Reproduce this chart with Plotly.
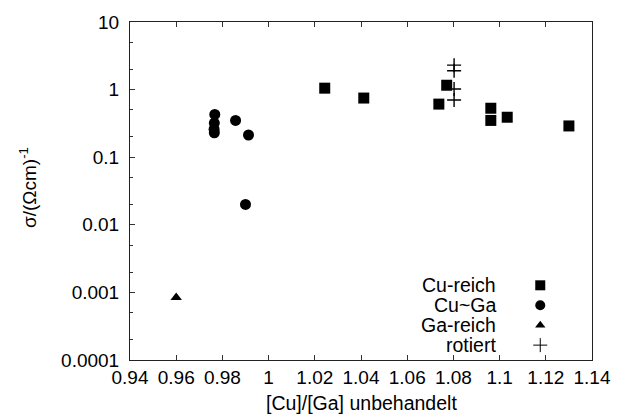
import plotly.graph_objects as go

# Data
cu_reich_x = [1.0243, 1.0412, 1.0771, 1.0737, 1.0962, 1.0962, 1.1033, 1.1300]
cu_reich_y = [1.05, 0.75, 1.16, 0.61, 0.53, 0.35, 0.39, 0.29]

cu_ga_x = [0.9767, 0.9765, 0.9764, 0.9765, 0.9857, 0.9913, 0.9900]
cu_ga_y = [0.43, 0.32, 0.26, 0.23, 0.35, 0.213, 0.020]

ga_reich_x = [0.960]
ga_reich_y = [0.00084]

rotiert_x = [1.0803, 1.0803, 1.0803, 1.0803]
rotiert_y = [2.3, 1.9, 1.02, 0.70]

x_ticks = [0.94, 0.96, 0.98, 1.0, 1.02, 1.04, 1.06, 1.08, 1.1, 1.12, 1.14]
x_ticktext = ["0.94", "0.96", "0.98", "1", "1.02", "1.04", "1.06", "1.08", "1.1", "1.12", "1.14"]
y_ticks = [0.0001, 0.001, 0.01, 0.1, 1, 10]
y_ticktext = ["0.0001", "0.001", "0.01", "0.1", "1", "10"]
y_minor = [m * 10.0 ** e for e in range(-4, 1) for m in (2, 5)]

legend_labels = ["Cu-reich", "Cu~Ga", "Ga-reich", "rotiert"]
legend_symbols = ["square", "circle", "triangle-up", "cross-thin"]
legend_sizes = [10, 10, 9, 10]

FONT = "Liberation Sans, Arial, sans-serif"
BLACK = "black"

fig = go.Figure()

def add_series(x, y, symbol, size):
    fig.add_trace(go.Scatter(
        x=x, y=y, mode="markers",
        marker=dict(symbol=symbol, size=size, color=BLACK,
                    line=dict(color=BLACK, width=1.4 if symbol == "cross-thin" else 0)),
        showlegend=False, hoverinfo="x+y"))

add_series(cu_reich_x, cu_reich_y, "square", 11)
add_series(cu_ga_x, cu_ga_y, "circle", 11)
add_series(ga_reich_x, ga_reich_y, "triangle-up", 10)
add_series(rotiert_x, rotiert_y, "cross-thin", 10)

# Custom legend on overlay axes (0..1 range)
leg_x_marker = 0.888
leg_x_text = 0.797
leg_y0 = 0.221
leg_dy = 0.059
for i, (lab, sym, sz) in enumerate(zip(legend_labels, legend_symbols, legend_sizes)):
    yy = leg_y0 - i * leg_dy
    fig.add_trace(go.Scatter(
        x=[leg_x_marker], y=[yy], xaxis="x2", yaxis="y2", mode="markers",
        marker=dict(symbol=sym, size=sz, color=BLACK,
                    line=dict(color=BLACK, width=1.0 if sym == "cross-thin" else 0)),
        showlegend=False, hoverinfo="skip"))
    fig.add_annotation(x=leg_x_text, y=yy, xref="paper", yref="paper",
                       text=lab, showarrow=False, xanchor="right", yanchor="middle",
                       font=dict(family=FONT, size=19.5, color=BLACK))

# Axis titles
fig.add_annotation(x=0.5, y=-0.128, xref="paper", yref="paper",
                   text="[Cu]/[Ga] unbehandelt", showarrow=False,
                   xanchor="center", yanchor="middle",
                   font=dict(family=FONT, size=19.5, color=BLACK))
fig.add_annotation(x=-0.222, y=0.51, xref="paper", yref="paper",
                   text="σ/(Ωcm)<sup>-1</sup>", showarrow=False, textangle=-90,
                   xanchor="center", yanchor="middle",
                   font=dict(family=FONT, size=19, color=BLACK))

fig.update_layout(
    width=623, height=417,
    margin=dict(l=130, r=20, t=21, b=57),
    paper_bgcolor="white", plot_bgcolor="white",
    font=dict(family=FONT, size=19, color=BLACK),
    showlegend=False,
    xaxis=dict(range=[0.94, 1.14], tickvals=x_ticks, ticktext=x_ticktext,
               ticks="inside", ticklen=5, tickcolor="#333", tickwidth=1,
               showline=True, linecolor="#222", linewidth=1, mirror="ticks",
               showgrid=False, zeroline=False, tickfont=dict(size=19)),
    yaxis=dict(type="log", range=[-4, 1], tickvals=y_ticks, ticktext=y_ticktext,
               ticks="inside", ticklen=5, tickcolor="#333", tickwidth=1,
               minor=dict(ticks="inside", ticklen=3, tickvals=y_minor, tickcolor="#333"),
               showline=True, linecolor="#222", linewidth=1, mirror=True,
               showgrid=False, zeroline=False, ticklabelstandoff=6,
               tickfont=dict(size=19)),
    xaxis2=dict(overlaying="x", range=[0, 1], visible=False, fixedrange=True),
    yaxis2=dict(overlaying="y", range=[0, 1], visible=False, fixedrange=True),
)

fig.write_html("out.html")
